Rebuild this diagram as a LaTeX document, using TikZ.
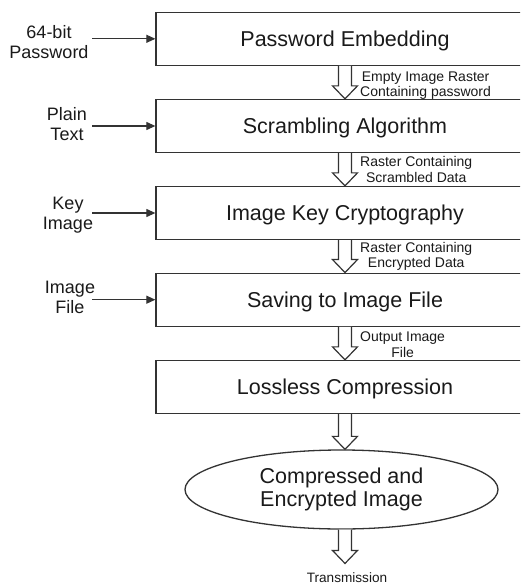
\documentclass[tikz,border=0pt]{standalone}
\usepackage{fontspec}
\setmainfont{Liberation Sans}
\usetikzlibrary{shapes.geometric,arrows.meta,calc}
\definecolor{ink}{HTML}{333333}
\definecolor{txt}{HTML}{1A1A1A}
\tikzset{
  stage/.style={draw=ink, line width=1.3pt, minimum width=378pt, minimum height=53pt,
    inner sep=0pt, text=txt, font=\fontsize{21.5}{24}\selectfont,
    text height=15.5pt, text depth=0pt},
  result/.style={ellipse, draw=ink, line width=1.3pt, minimum width=313pt, minimum height=79pt,
    inner sep=0pt, align=center, text=txt, font=\fontsize{21.5}{22.5}\selectfont},
  inlabel/.style={align=center, inner sep=0pt, text=txt, font=\fontsize{18}{20}\selectfont},
  flowlabel/.style={align=center, anchor=west, inner sep=0pt, text=txt,
    font=\fontsize{14}{15.5}\selectfont},
  feed/.style={draw=ink, line width=1.1pt, -{Triangle[length=9pt,width=8pt]}},
  hollow/.style={draw=ink, line width=1.2pt, fill=white, line join=miter},
}
% hollow block arrow pointing down from #1 to #2
\newcommand\flowarrow[2]{%
  \path[hollow] let \p1=(#1), \p2=(#2) in
    (\x1-6.5pt,\y1) -- (\x1-6.5pt,\y2+13pt) -- (\x1-12.5pt,\y2+13pt) -- (\x1,\y2)
    -- (\x1+12.5pt,\y2+13pt) -- (\x1+6.5pt,\y2+13pt) -- (\x1+6.5pt,\y1);}
\begin{document}
\begin{tikzpicture}[x=1pt,y=-1pt]
  \useasboundingbox (0,0) rectangle (520,586);
  \fill[white] (0,0) rectangle (520,586);
  \clip (0,0) rectangle (520,586);

  % processing stages
  \node[stage] (box1) at (345,38.8)  {Password Embedding};
  \node[stage] (box2) at (345,126)   {Scrambling Algorithm};
  \node[stage] (box3) at (345,213)   {Image Key Cryptography};
  \node[stage] (box4) at (345,299.7) {Saving to Image File};
  \node[stage] (box5) at (345,387)   {Lossless Compression};
  \node[result] (res) at (341.5,489.5) {Compressed and\\Encrypted Image};

  % external inputs
  \node[inlabel] (in1) at (49,42.5)  {64-bit\\Password};
  \node[inlabel] (in2) at (67,124)   {Plain\\Text};
  \node[inlabel] (in3) at (68,215.5) {Key\\Image};
  \node[inlabel] (in4) at (70,297)   {Image\\File};
  \path (box1.west) ++(-63,0) coordinate (s1);
  \path (box2.west) ++(-63,0) coordinate (s2);
  \path (box3.west) ++(-63,0) coordinate (s3);
  \path (box4.west) ++(-63,0) coordinate (s4);
  \draw[feed] (s1) -- (box1.west);
  \draw[feed] (s2) -- (box2.west);
  \draw[feed] (s3) -- (box3.west);
  \draw[feed] (s4) -- (box4.west);

  % data flow between stages
  \flowarrow{box1.south}{box2.north}
  \flowarrow{box2.south}{box3.north}
  \flowarrow{box3.south}{box4.north}
  \flowarrow{box4.south}{box5.north}
  \flowarrow{box5.south}{res.north -| box5.south}

  \node[flowlabel] (d1) at (360,85.5)  {Empty Image Raster\\Containing password};
  \node[flowlabel] (d2) at (360,169.5) {Raster Containing\\Scrambled Data};
  \node[flowlabel] (d3) at (360,256.5) {Raster Containing\\Encrypted Data};
  \node[flowlabel] (d4) at (360,344.5) {Output Image\\File};

  % output
  \node[anchor=base, inner sep=0pt, text=txt, font=\fontsize{13.6}{15}\selectfont]
    (tx) at (347,582.5) {Transmission};
  \path (tx.north) ++(0,-9) coordinate (tip);
  \flowarrow{res.south -| box5.south}{tip -| box5.south}
\end{tikzpicture}
\end{document}
